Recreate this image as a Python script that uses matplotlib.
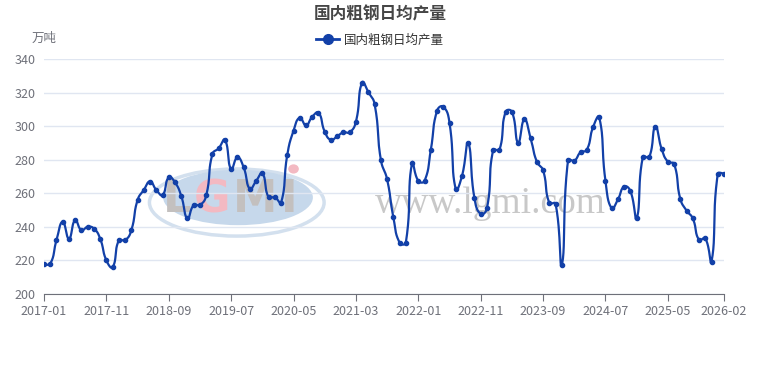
import numpy as np
import matplotlib
matplotlib.use("Agg")
import matplotlib.pyplot as plt
from matplotlib.patches import Ellipse
from matplotlib.lines import Line2D

plt.rcParams['font.family'] = ['Noto Sans CJK SC', 'DejaVu Sans']

start_year, start_month, n_months = 2017, 1, 110
months = []
for k in range(n_months):
    y = start_year + (start_month - 1 + k) // 12
    m = (start_month - 1 + k) % 12 + 1
    months.append(f"{y}-{m:02d}")

values = [218, 218, 232, 243, 233, 244, 238, 240, 239, 233,
          220, 216, 232, 232, 238, 256, 262, 267, 262, 259,
          269.5, 266.5, 258.4, 245, 253, 253, 258.7, 283.4, 286.8, 291.8,
          274.3, 281.4, 275.5, 262.6, 267.3, 271.9, 257.6, 257.6, 254.4, 283,
          297.3, 305, 300.5, 305.6, 308, 296.7, 291.8, 294, 296.3, 296.3,
          302.7, 326, 320.2, 313, 279.8, 268.3, 245.7, 230.6, 230.6, 278,
          267.4, 267.4, 285.8, 309.2, 311.6, 302, 262.4, 270.3, 289.8, 257,
          247.7, 251, 285.8, 285.8, 308.6, 308.6, 290.2, 304, 292.8, 278.8,
          273.7, 254.2, 253.8, 217.3, 279.8, 279.4, 284.4, 285.8, 299.3, 305.3,
          267.4, 251, 256.4, 264, 261.3, 245, 281.8, 281.4, 299.7, 286.4,
          278.8, 277.5, 256.6, 249.7, 245, 232.2, 233.2, 219.3, 271.5, 271.5]

series_name = "国内粗钢日均产量"
title = "国内粗钢日均产量"
unit = "万吨"
yticks = [200, 220, 240, 260, 280, 300, 320, 340]
tick_idx = [0, 10, 20, 30, 40, 50, 60, 70, 80, 90, 100, 109]

LINE = "#1240a8"

fig = plt.figure(figsize=(7.6, 3.7), dpi=100)
ax = fig.add_axes([44/760, 76/370, 680/760, 235/370])

x = np.arange(len(values), dtype=float)
v = np.array(values, dtype=float)

# ECharts-like smooth bezier computed in pixel-proportional space
sx, sy = 680/109, 235/140
px, py = x*sx, v*sy
smooth = 0.5
n = len(px)
cpL = np.zeros((n, 2)); cpR = np.zeros((n, 2))
for i in range(n):
    if i == 0 or i == n-1:
        cpL[i] = cpR[i] = (px[i], py[i])
        continue
    vx = px[i+1]-px[i-1]; vy = py[i+1]-py[i-1]
    d0 = np.hypot(px[i]-px[i-1], py[i]-py[i-1])
    d1 = np.hypot(px[i+1]-px[i], py[i+1]-py[i])
    r = d1/(d0+d1)
    cpL[i] = (px[i]-vx*smooth*(1-r), py[i]-vy*smooth*(1-r))
    cpR[i] = (px[i]+vx*smooth*r, py[i]+vy*smooth*r)
cx, cy = [], []
t = np.linspace(0, 1, 25)
for i in range(n-1):
    p0 = np.array([px[i], py[i]]); p3 = np.array([px[i+1], py[i+1]])
    p1 = cpR[i]; p2 = cpL[i+1]
    b = ((1-t)**3)[:, None]*p0 + (3*(1-t)**2*t)[:, None]*p1 + (3*(1-t)*t**2)[:, None]*p2 + (t**3)[:, None]*p3
    cx.extend(b[:, 0]/sx); cy.extend(b[:, 1]/sy)

# watermark (logo + url)
ax.add_patch(Ellipse((30.9, 254.5), 28.0, 40, facecolor="none", edgecolor="#d3e0ee", lw=2.5, zorder=0))
ax.add_patch(Ellipse((31.1, 257.5), 24.0, 33, facecolor="#c6d8eb", edgecolor="none", zorder=0.2))
letters = [("L", 21.3, "#c3c0bf"), ("G", 27.0, "#f3b9c2"), ("M", 33.9, "#c3c0bf"), ("I", 39.3, "#c3c0bf")]
for ch, lx, col in letters:
    ax.text(lx, 256.0, ch, fontsize=32, fontweight="bold", color=col,
            ha="center", va="center", family=["DejaVu Sans"], zorder=0.5)
ax.add_patch(Ellipse((40.0, 274.5), 1.7, 5.5, facecolor="#f3b9c2", edgecolor="none", zorder=0.5))
ax.text(71.5, 248.3, "www.lgmi.com", fontsize=27, color="#c8c8c8", ha="center", va="baseline",
        family=["Liberation Serif", "DejaVu Serif"], zorder=0.5)

ax.plot(cx, cy, color=LINE, lw=1.6, zorder=3, solid_capstyle="round")
ax.plot(x, v, 'o', color=LINE, ms=3, zorder=4)

ax.set_xlim(0, 109)
ax.set_ylim(200, 340)
ax.set_yticks(yticks)
ax.set_xticks(tick_idx)
ax.set_xticklabels([months[i] for i in tick_idx])
ax.grid(axis='y', color="#e0e6f1", lw=1)
ax.set_axisbelow(True)
for s in ['top', 'right', 'left']:
    ax.spines[s].set_visible(False)
ax.spines['bottom'].set_color("#6e7079")
ax.tick_params(axis='y', length=0, pad=6, labelsize=9, labelcolor="#6e7079")
ax.tick_params(axis='x', length=5, color="#6e7079", pad=3, labelsize=9, labelcolor="#6e7079")

fig.text(380/760, 1-14/370, title, ha="center", va="center", fontsize=12, fontweight="bold", color="#464646")
fig.text(44/760, 1-38/370, unit, ha="center", va="center", fontsize=9, color="#6e7079")

h = Line2D([0], [0], color=LINE, lw=2, marker='o', ms=7)
leg = fig.legend([h], [series_name], loc="center", bbox_to_anchor=(380/760, 1-40/370), frameon=False,
                 fontsize=9, handlelength=1.8, handletextpad=0.4)
for tx in leg.get_texts():
    tx.set_color("#333333")

fig.savefig("out.png", dpi=100)
